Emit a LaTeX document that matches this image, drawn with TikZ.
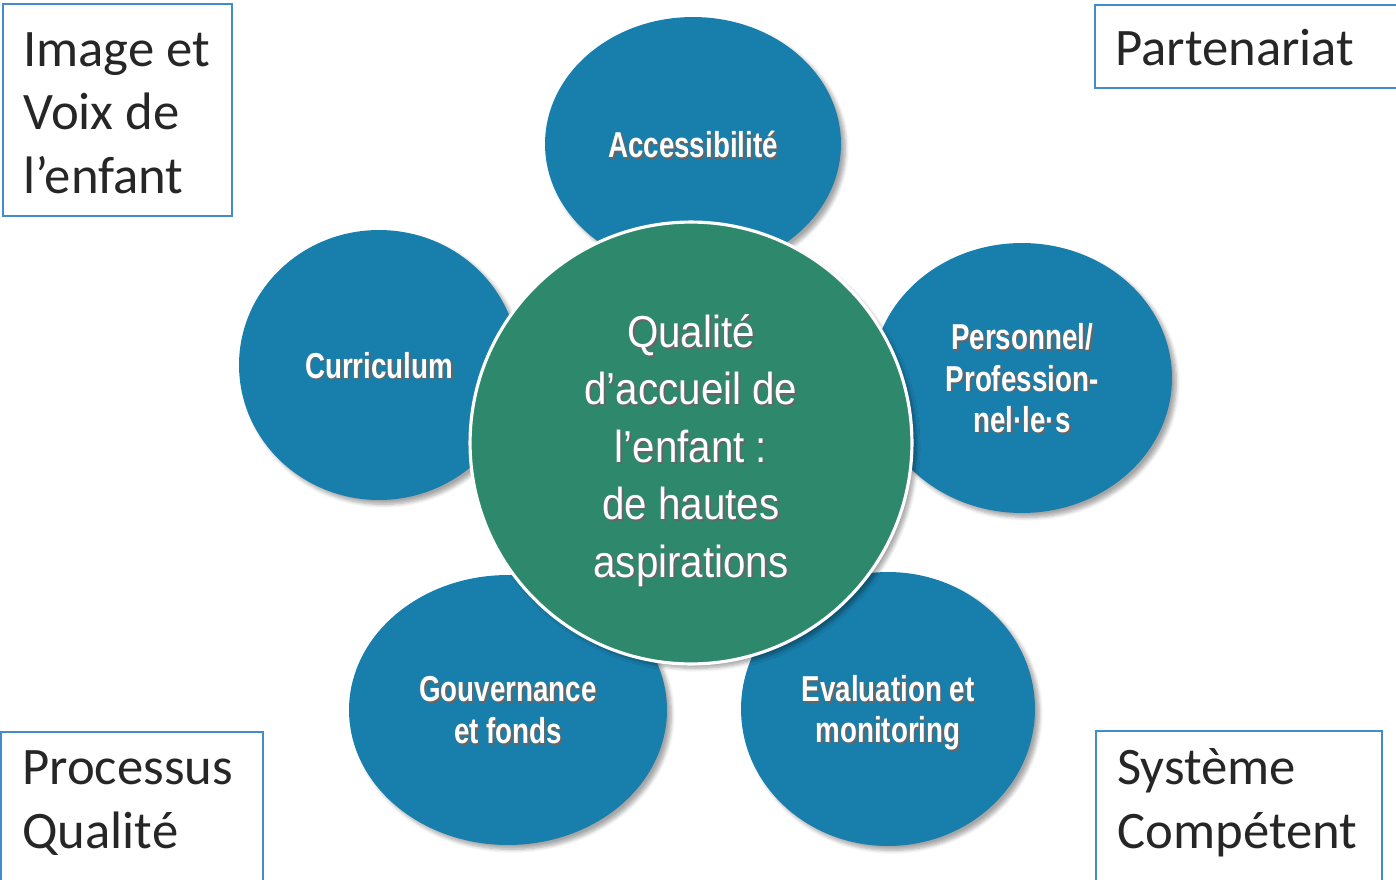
\documentclass[tikz,border=0pt]{standalone}
\usepackage{fontspec}
\setmainfont{Liberation Sans}
\newfontfamily\boxfont{Carlito}
\newfontfamily\narrowfont[FakeStretch=0.77]{Liberation Sans}
\newfontfamily\corefont[FakeStretch=0.9]{Liberation Sans}
\usetikzlibrary{shapes.geometric,shadows.blur}

\definecolor{bubbleblue}{RGB}{24,126,172}
\definecolor{coregreen}{RGB}{46,137,108}
\definecolor{frameblue}{RGB}{66,140,204}
\definecolor{labelgray}{RGB}{38,38,38}

% white text with a small dark copy behind it
\newcommand{\shd}[1]{\makebox[0pt][l]{\kern1.1pt\raisebox{-1.1pt}{\color{black!60}#1}}#1}

\begin{document}
\begin{tikzpicture}[x=0.02cm,y=-0.02cm,
    bubble/.style={ellipse,fill=bubbleblue,inner sep=0pt,text=white,align=center,text depth=0pt,
      font=\narrowfont\bfseries\fontsize{20.5}{23.5}\selectfont,
      blur shadow={shadow xshift=2.5pt,shadow yshift=-2.5pt,shadow opacity=35,shadow blur steps=6}},
    core/.style={circle,fill=coregreen,draw=white,line width=1.8pt,inner sep=0pt,
      minimum size=8.84cm,text=white,align=center,text height=158pt,text depth=5.4pt,
      font=\corefont\fontsize{25.5}{32.7}\selectfont,
      blur shadow={shadow xshift=2.5pt,shadow yshift=-2.5pt,shadow opacity=35,shadow blur steps=6}},
    frame/.style={draw=frameblue,line width=1.1pt},
    boxlabel/.style={anchor=base west,inner sep=0pt,align=left,text=labelgray,
      font=\boxfont\fontsize{30}{36}\selectfont}]
  \useasboundingbox (0,0) rectangle (1396,879);

  % corner boxes (labels sit on their last baseline)
  \draw[frame] (3,4) rectangle (232,216);
  \node[boxlabel] (imgvoix) at (23,193) {Image et\\Voix de\\l’enfant};
  \draw[frame] (1095,5) rectangle (1410,88);
  \node[boxlabel] (partner) at (1115,65) {Partenariat};
  \draw[frame] (1,732) rectangle (263,890);
  \node[boxlabel] (process) at (22,848) {Processus\\Qualité};
  \draw[frame] (1096,731) rectangle (1382,890);
  \node[boxlabel] (system) at (1117,848) {Système\\Compétent};

  % blue bubbles
  \node[bubble,minimum width=5.92cm,minimum height=5.08cm] (access) at (693,144) {\shd{Accessibilité}};
  \node[bubble,minimum width=5.6cm,minimum height=5.4cm] (curric) at (379,365) {\shd{Curriculum}};
  \node[bubble,minimum width=6cm,minimum height=5.4cm] (staff) at (1022,378) {\shd{Personnel/}\\\shd{Profession-}\\\shd{nel·le·s}};
  \node[bubble,minimum width=6.36cm,minimum height=5.4cm] (govern) at (508,710) {\shd{Gouvernance}\\\shd{et fonds}};
  \node[bubble,minimum width=5.88cm,minimum height=5.48cm] (evalmon) at (888,709) {\shd{Evaluation et}\\\shd{monitoring}};

  % green centre
  \node[core] (quality) at (691,443) {\shd{Qualité}\\\shd{d’accueil de}\\\shd{l’enfant :}\\\shd{de hautes}\\\shd{aspirations}};
\end{tikzpicture}
\end{document}
